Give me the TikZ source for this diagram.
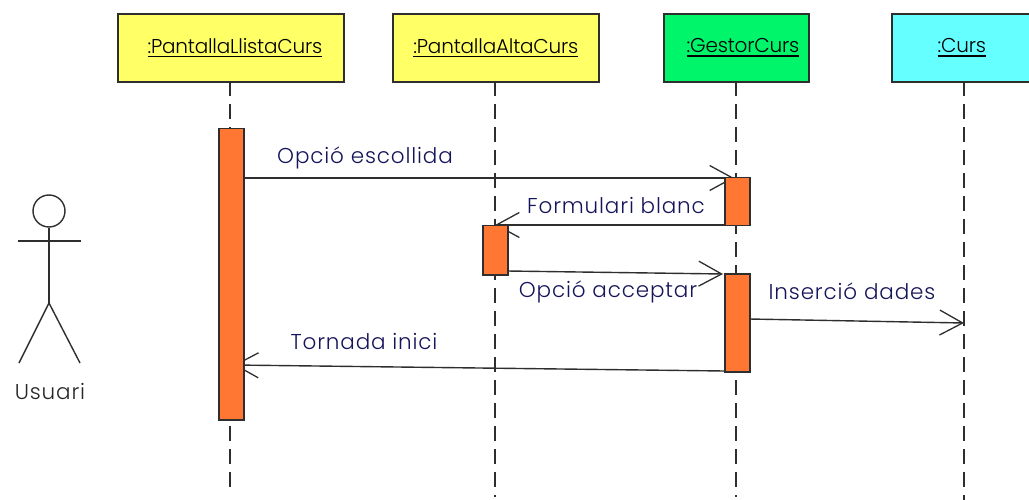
\documentclass[tikz,border=0pt]{standalone}
\usepackage{fontspec}
\setmainfont{Poppins}
\newfontfamily\msgfont[LetterSpace=4]{Poppins Light}
\newfontfamily\hdrfont[LetterSpace=-1]{Poppins Light}
\usetikzlibrary{arrows.meta,positioning}
\definecolor{ybox}{HTML}{FFFF66}
\definecolor{gbox}{HTML}{00F56A}
\definecolor{cbox}{HTML}{66FFFF}
\definecolor{orng}{HTML}{FF7733}
\definecolor{edge}{HTML}{2E2E2E}
\definecolor{navy}{HTML}{14145A}
\newcommand\hdrtext[1]{\raisebox{2pt}{\setbox0\hbox{#1}\rlap{\rule[-4pt]{\wd0}{1.5pt}}\box0}}
\tikzset{
  x=1pt,y=-1pt,
  objbox/.style={draw=edge,line width=1.8pt,minimum height=68pt,inner sep=0pt,font=\hdrfont\fontsize{20}{20}\selectfont,text=black,anchor=north west},
  lifeline/.style={draw=edge,line width=1.5pt,dash pattern=on 15pt off 8pt},
  actbar/.style={draw=edge,line width=1.5pt,fill=orng,minimum width=25pt,inner sep=0pt,anchor=north west},
  msg/.style={draw=edge,line width=1.4pt,-{Straight Barb[length=23pt,width=25pt,line width=1.3pt]}},
  msglabel/.style={font=\msgfont\fontsize{21.5}{21.5}\selectfont,text=navy,inner sep=0pt},
  stick/.style={draw=edge,line width=1.4pt},
}
\begin{document}
\begin{tikzpicture}
\useasboundingbox (0,0) rectangle (1029,500);
% objects
\node[objbox,fill=ybox,minimum width=226pt] (o1) at (117,13) {\hspace*{8pt}\hdrtext{:PantallaLlistaCurs}};
\node[objbox,fill=ybox,minimum width=206pt] (o2) at (392,13) {\hdrtext{:PantallaAltaCurs}};
\node[objbox,fill=gbox,minimum width=145pt] (o3) at (663,13) {\hspace*{13pt}\hdrtext{:GestorCurs}};
\node[objbox,fill=cbox,minimum width=140pt] (o4) at (891,13) {\hdrtext{:Curs}};
% lifeline ends
\coordinate (e1) at (230,487);
\coordinate (e2) at (495,497);
\coordinate (e3) at (736,497);
\coordinate (e4) at (964,500);
\coordinate (s1) at (230,81);
\coordinate (s2) at (495,81);
\coordinate (s3) at (736,81);
\coordinate (s4) at (964,81);
\draw[lifeline] (s1) -- (e1);
\draw[lifeline] (s2) -- (e2);
\draw[lifeline] (s3) -- (e3);
\draw[lifeline] (s4) -- (e4);
% messages, drawn under the activation bars
\coordinate (m1a) at (243,178);
\coordinate (m1b) at (734,178);
\coordinate (m2a) at (724,225);
\coordinate (m2b) at (495,225);
\coordinate (m3a) at (507,271);
\coordinate (m3b) at (723,274);
\coordinate (m4a) at (749,319);
\coordinate (m4b) at (964,323);
\coordinate (m5a) at (724,371);
\coordinate (m5b) at (234,365);
\draw[msg] (m1a) -- (m1b);
\draw[msg] (m2a) -- (m2b);
\draw[msg] (m3a) -- (m3b);
\draw[msg] (m4a) -- (m4b);
\draw[msg] (m5a) -- (m5b);
% activations
\node[actbar,minimum height=291pt] (a1) at (218,128) {};
\node[actbar,minimum height=49pt] (a2) at (482,225) {};
\node[actbar,minimum height=48pt] (a3) at (724,177) {};
\node[actbar,minimum height=98pt] (a4) at (724,273) {};
% labels
\node[msglabel] (l1) at (365,158) {Opció escollida};
\node[msglabel] (l2) at (616,206) {Formulari blanc};
\node[msglabel] (l3) at (608,292) {Opció acceptar};
\node[msglabel] (l4) at (852,291) {Inserció dades};
\node[msglabel] (l5) at (364,342) {Tornada inici};
% actor
\node[draw=edge,line width=1.4pt,circle,minimum size=32pt,inner sep=0pt] (head) at (49,211) {};
\coordinate (shl) at (18,241);
\coordinate (shr) at (81,241);
\coordinate (hip) at (49,303);
\coordinate (footl) at (19,363);
\coordinate (footr) at (80,363);
\draw[stick] (shl) -- (shr);
\draw[stick] (head) -- (hip);
\draw[stick] (footl) -- (hip) -- (footr);
\node[font=\msgfont\fontsize{21.5}{21.5}\selectfont,text=black!85,inner sep=0pt] (actor) at (50,392) {Usuari};
\end{tikzpicture}
\end{document}
